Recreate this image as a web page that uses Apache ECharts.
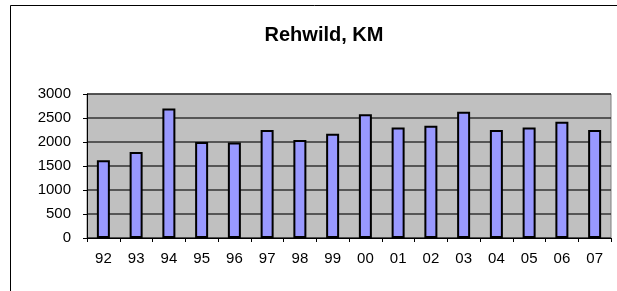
<!DOCTYPE html>
<html>
<head>
<meta charset="utf-8">
<script src="https://cdn.jsdelivr.net/npm/echarts@6/dist/echarts.min.js"></script>
<style>
  html, body { margin: 0; padding: 0; background: #fff; }
  #chart { width: 617px; height: 291px; }
</style>
</head>
<body>
<div id="chart"></div>
<script>
// Jahre und Strecke
var years = ["92", "93", "94", "95", "96", "97", "98", "99", "00", "01", "02", "03", "04", "05", "06", "07"];
var values = [1620, 1790, 2700, 2000, 1990, 2250, 2040, 2170, 2580, 2300, 2340, 2630, 2250, 2300, 2420, 2250];
var yTicks = [0, 500, 1000, 1500, 2000, 2500, 3000];

var myChart = echarts.init(document.getElementById('chart'));
var font = "'Liberation Sans', Arial, sans-serif";

var option = {
  animation: false,
  title: {
    text: 'Rehwild, KM',
    left: 319,
    textAlign: 'center',
    top: 20,
    textStyle: { fontFamily: font, fontSize: 20, fontWeight: 'bold', color: '#000' }
  },
  graphic: [{
    type: 'rect',
    shape: { x: 10.5, y: 5.5, width: 700, height: 400 },
    style: { fill: 'none', stroke: '#000', lineWidth: 1 },
    z: -1
  }],
  grid: {
    left: 87, right: 6, top: 94, bottom: 53,
    show: true,
    backgroundColor: '#c0c0c0',
    borderColor: '#808080',
    borderWidth: 1
  },
  xAxis: {
    type: 'category',
    data: years,
    boundaryGap: true,
    axisLine: { lineStyle: { color: '#000', width: 1 } },
    axisTick: { show: true, length: 4, lineStyle: { color: '#000' } },
    axisLabel: { fontFamily: font, fontSize: 15, color: '#000', margin: 13 }
  },
  yAxis: {
    type: 'value',
    min: yTicks[0],
    max: yTicks[yTicks.length - 1],
    interval: 500,
    axisLine: { show: true, lineStyle: { color: '#000' } },
    axisTick: { show: true, length: 4, lineStyle: { color: '#000' } },
    axisLabel: {
      fontFamily: font, fontSize: 15, color: '#000', margin: 16,
      formatter: function (v) { return String(v); }
    },
    splitLine: { lineStyle: { color: '#333', width: 1.5 } }
  },
  series: [{
    type: 'bar',
    data: values,
    barWidth: 13,
    itemStyle: { color: '#9999ff', borderColor: '#000', borderWidth: 2 }
  }]
};

myChart.setOption(option);
</script>
</body>
</html>
